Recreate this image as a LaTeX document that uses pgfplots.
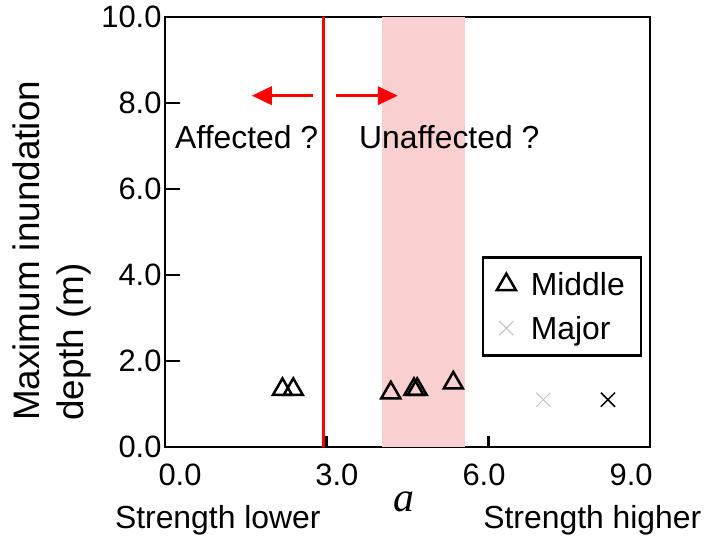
\documentclass[border=0pt]{standalone}
\usepackage{fontspec}
\setmainfont{Liberation Sans}
\newfontfamily\seriffont{Liberation Serif}
\usepackage{pgfplots}
\pgfplotsset{compat=1.18}
\usetikzlibrary{arrows.meta}
\definecolor{shade}{RGB}{249,207,207}
\definecolor{lightx}{RGB}{195,195,195}
\begin{document}
\begin{tikzpicture}
\begin{axis}[
  name=ax, at={(0,0)}, anchor=south west,
  scale only axis, width=485bp, height=430bp,
  xmin=0, xmax=9, ymin=0, ymax=10,
  clip=false,
  axis line style={line width=2.5bp},
  tick align=inside,
  xtick=\empty,
  minor xtick={1,2,4,5,7,8},
  extra x ticks={3,6}, extra x tick labels={,},
  extra x tick style={major tick length=11bp},
  ytick={0,2,4,6,8,10},
  yticklabels={0.0,2.0,4.0,6.0,8.0,10.0},
  xtick pos=lower, ytick pos=left,
  major tick length=15bp, minor tick length=8bp,
  every tick/.style={line width=2.5bp, black},
  tick label style={font=\fontsize{31}{37}\selectfont},
  ylabel={Maximum inundation\\depth (m)},
  ylabel style={align=left, font=\fontsize{37}{44}\selectfont, inner sep=0pt,
    at={(rel axis cs:-0.3134,0.456)}, anchor=north, rotate=0},
  legend style={at={(rel axis cs:0.9835,0.444)}, anchor=north east,
    draw=black, line width=2.5bp, font=\fontsize{32}{38}\selectfont,
    row sep=15bp, inner xsep=14bp, inner ysep=13bp},
  legend image code/.code={%
    \draw[#1] plot[only marks] coordinates {(8.5bp,0bp)};
    \path[draw=none, fill=none] (0bp,0bp) -- (31bp,0bp);},
  legend cell align=left,
]
\addplot[draw=none, fill=shade, forget plot] coordinates {(4.03,0) (5.57,0) (5.57,10) (4.03,10)} -- cycle;
\addplot[red, line width=3bp, forget plot] coordinates {(2.94,0) (2.94,10)};
\addplot[red, line width=3.5bp, -{Triangle[length=20bp,width=18bp]}, forget plot] coordinates {(2.75,8.17) (1.61,8.17)};
\addplot[red, line width=3.5bp, -{Triangle[length=20bp,width=18bp]}, forget plot] coordinates {(3.17,8.17) (4.32,8.17)};

\addplot[only marks, mark=triangle, mark size=11bp, line width=2.5bp, black]
  coordinates {(2.18,1.34) (2.38,1.34) (4.19,1.26) (4.62,1.34) (4.68,1.34) (5.35,1.49)};
\addlegendentry{Middle}
\addplot[only marks, mark=x, mark size=10bp, line width=1bp, lightx]
  coordinates {(7.02,1.10)};
\addlegendentry{Major}
\addplot[only marks, mark=x, mark size=10bp, line width=1.5bp, black, forget plot]
  coordinates {(8.22,1.10)};

\node[font=\fontsize{32}{38}\selectfont, anchor=base west, inner sep=0pt] at (axis cs:0.186,6.95) {Affected ?};
\node[font=\fontsize{32}{38}\selectfont, anchor=base west, inner sep=0pt] at (axis cs:3.60,6.95) {Unaffected ?};

\node[font=\fontsize{31}{37}\selectfont, anchor=base, inner sep=0pt] at (axis cs:0.278,-0.884) {0.0};
\node[font=\fontsize{31}{37}\selectfont, anchor=base, inner sep=0pt] at (axis cs:3.19,-0.884) {3.0};
\node[font=\fontsize{31}{37}\selectfont, anchor=base, inner sep=0pt] at (axis cs:5.92,-0.884) {6.0};
\node[font=\fontsize{31}{37}\selectfont, anchor=base, inner sep=0pt] at (axis cs:8.65,-0.884) {9.0};

\node[font=\seriffont\itshape\fontsize{42}{48}\selectfont, anchor=base, inner sep=0pt] at (axis cs:4.43,-1.51) {a};
\node[font=\fontsize{32}{38}\selectfont, anchor=base, inner sep=0pt] at (axis cs:0.98,-1.884) {Strength lower};
\node[font=\fontsize{32}{38}\selectfont, anchor=base, inner sep=0pt] at (axis cs:7.93,-1.884) {Strength higher};
\end{axis}
\pgfresetboundingbox
\useasboundingbox (-165bp,-89bp) rectangle (555bp,447bp);
\end{tikzpicture}
\end{document}
